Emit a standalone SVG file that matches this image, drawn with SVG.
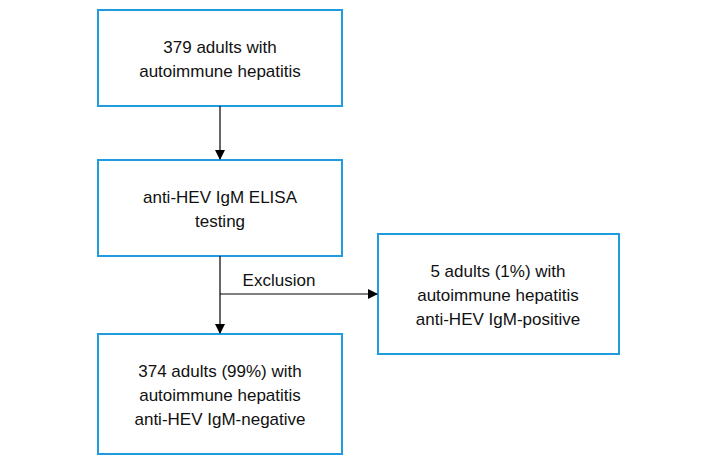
<svg xmlns="http://www.w3.org/2000/svg" width="703" height="470" viewBox="0 0 703 470">
<style>
.b{fill:#fff;stroke:#1f9be0;stroke-width:2}
text{font-family:"Liberation Sans",Arial,sans-serif;font-size:17px;fill:#111;text-anchor:middle}
.c{stroke:#000;stroke-width:1.2;fill:none}
</style>
<defs><marker id="a" markerWidth="10" markerHeight="10" refX="9" refY="5" orient="auto" markerUnits="userSpaceOnUse"><path d="M0,0L10,5L0,10z" fill="#000"/></marker></defs>
<rect width="703" height="470" fill="#fff"/>
<g id="n1"><rect class="b" x="98" y="10" width="244" height="96"/><text x="220" y="53">379 adults with</text><text x="220" y="77">autoimmune hepatitis</text></g>
<g id="n2"><rect class="b" x="98" y="160" width="244" height="96"/><text x="220" y="203">anti-HEV IgM ELISA</text><text x="220" y="227">testing</text></g>
<g id="n3"><rect class="b" x="378" y="234" width="241" height="120"/><text x="498" y="277">5 adults (1%) with</text><text x="498" y="301">autoimmune hepatitis</text><text x="498" y="325">anti-HEV IgM-positive</text></g>
<g id="n4"><rect class="b" x="98" y="334" width="244" height="120"/><text x="220" y="377">374 adults (99%) with</text><text x="220" y="401">autoimmune hepatitis</text><text x="220" y="425">anti-HEV IgM-negative</text></g>
<g id="connectors">
<path class="c" d="M220,106V159" marker-end="url(#a)"/>
<path class="c" d="M220,256V333" marker-end="url(#a)"/>
<path class="c" d="M220,294H377" marker-end="url(#a)"/>
<text x="279" y="286">Exclusion</text>
</g>
</svg>
